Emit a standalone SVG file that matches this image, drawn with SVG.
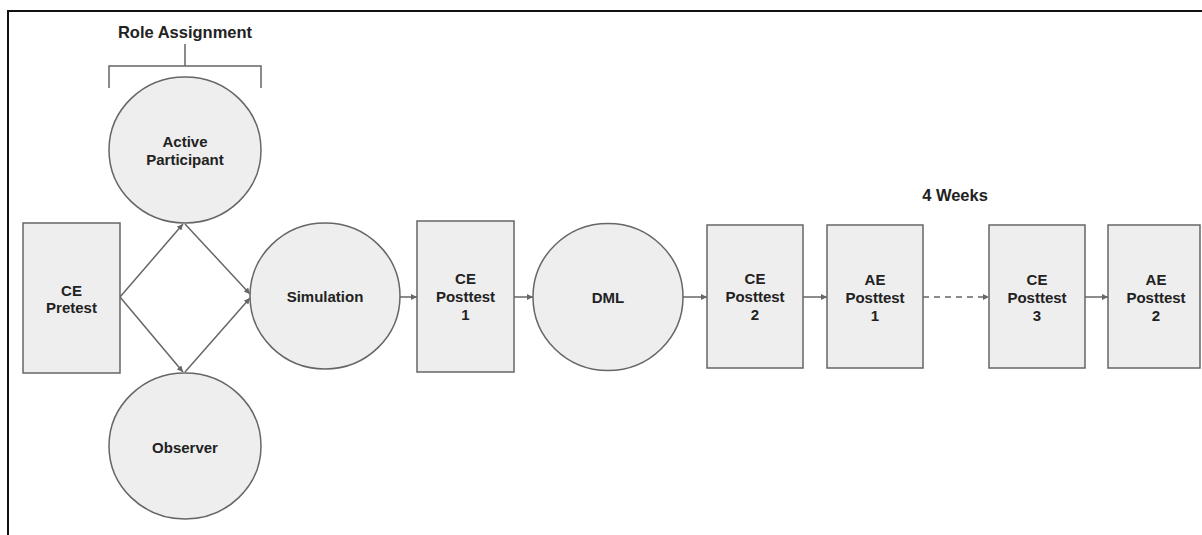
<svg xmlns="http://www.w3.org/2000/svg" width="1202" height="535" viewBox="0 0 1202 535">
<style>
.node{fill:#eeeeee;stroke:#666666;stroke-width:1.5}
.lbl{font-family:"Liberation Sans",Arial,sans-serif;font-weight:bold;font-size:15px;fill:#222222;text-anchor:middle}
.title{font-family:"Liberation Sans",Arial,sans-serif;font-weight:bold;font-size:16.5px;fill:#222222;text-anchor:middle}
.conn{fill:none;stroke:#666666;stroke-width:1.5}
.dash{stroke-dasharray:6 5}
</style>
<defs>
<marker id="ah" viewBox="0 0 10 10" refX="10" refY="5" markerWidth="7" markerHeight="6" markerUnits="userSpaceOnUse" orient="auto">
<path d="M0,0 L10,5 L0,10 Z" fill="#666666"/>
</marker>
</defs>
<rect width="1202" height="535" fill="#ffffff"/>
<path d="M8,540 L8,11 L1210,11" fill="none" stroke="#111111" stroke-width="2"/>
<g id="role-assignment">
<text class="title" x="185" y="38">Role Assignment</text>
<path class="conn" d="M185,44 L185,66 M109,88 L109,66 L261,66 L261,88"/>
</g>
<g id="connectors">
<line class="conn" x1="120" y1="297" x2="183" y2="224" marker-end="url(#ah)"/>
<line class="conn" x1="120" y1="297" x2="183" y2="372" marker-end="url(#ah)"/>
<line class="conn" x1="185" y1="224" x2="250" y2="294" marker-end="url(#ah)"/>
<line class="conn" x1="185" y1="372" x2="250" y2="298" marker-end="url(#ah)"/>
<line class="conn" x1="400" y1="297" x2="417" y2="297" marker-end="url(#ah)"/>
<line class="conn" x1="514" y1="297" x2="533" y2="297" marker-end="url(#ah)"/>
<line class="conn" x1="683" y1="297" x2="707" y2="297" marker-end="url(#ah)"/>
<line class="conn" x1="803" y1="297" x2="827" y2="297" marker-end="url(#ah)"/>
<line class="conn dash" x1="923" y1="297" x2="989" y2="297" marker-end="url(#ah)"/>
<line class="conn" x1="1085" y1="297" x2="1108" y2="297" marker-end="url(#ah)"/>
</g>
<g id="ce-pretest">
<rect class="node" x="23" y="223" width="97" height="150"/>
<text class="lbl" x="71.5" y="296">CE</text>
<text class="lbl" x="71.5" y="313">Pretest</text>
</g>
<g id="active-participant">
<ellipse class="node" cx="185" cy="150" rx="76" ry="73"/>
<text class="lbl" x="185" y="147">Active</text>
<text class="lbl" x="185" y="165">Participant</text>
</g>
<g id="observer">
<ellipse class="node" cx="185" cy="446" rx="76" ry="73"/>
<text class="lbl" x="185" y="453">Observer</text>
</g>
<g id="simulation">
<ellipse class="node" cx="325" cy="296" rx="75" ry="73"/>
<text class="lbl" x="325" y="302">Simulation</text>
</g>
<g id="ce-posttest-1">
<rect class="node" x="417" y="221" width="97" height="151"/>
<text class="lbl" x="465.5" y="284">CE</text>
<text class="lbl" x="465.5" y="302">Posttest</text>
<text class="lbl" x="465.5" y="320">1</text>
</g>
<g id="dml">
<ellipse class="node" cx="608" cy="297" rx="75" ry="73.5"/>
<text class="lbl" x="608" y="303">DML</text>
</g>
<g id="ce-posttest-2">
<rect class="node" x="707" y="225" width="96" height="143"/>
<text class="lbl" x="755" y="284">CE</text>
<text class="lbl" x="755" y="302">Posttest</text>
<text class="lbl" x="755" y="320">2</text>
</g>
<g id="ae-posttest-1">
<rect class="node" x="827" y="225" width="96" height="143"/>
<text class="lbl" x="875" y="285">AE</text>
<text class="lbl" x="875" y="303">Posttest</text>
<text class="lbl" x="875" y="321">1</text>
</g>
<g id="four-weeks">
<text class="title" x="955" y="201">4 Weeks</text>
</g>
<g id="ce-posttest-3">
<rect class="node" x="989" y="225" width="96" height="143"/>
<text class="lbl" x="1037" y="285">CE</text>
<text class="lbl" x="1037" y="303">Posttest</text>
<text class="lbl" x="1037" y="321">3</text>
</g>
<g id="ae-posttest-2">
<rect class="node" x="1108" y="225" width="92" height="143"/>
<text class="lbl" x="1156" y="285">AE</text>
<text class="lbl" x="1156" y="303">Posttest</text>
<text class="lbl" x="1156" y="321">2</text>
</g>
</svg>
